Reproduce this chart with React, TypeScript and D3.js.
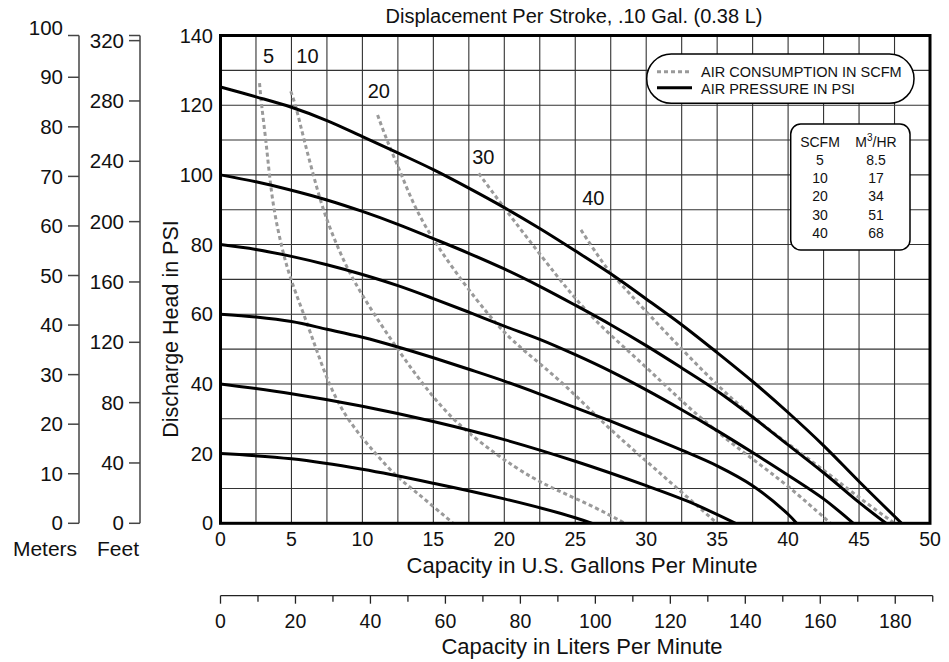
import React from "react";
import * as d3 from "d3";

type Pt = [number, number];

// ---- Data (GPM, PSI) ----
const gpmTicks = [0, 5, 10, 15, 20, 25, 30, 35, 40, 45, 50];
const psiTicks = [0, 20, 40, 60, 80, 100, 120, 140];
const meterTicks = [0, 10, 20, 30, 40, 50, 60, 70, 80, 90, 100];
const feetTicks = [0, 40, 80, 120, 160, 200, 240, 280, 320];
const literLabelTicks = [0, 20, 40, 60, 80, 100, 120, 140, 160, 180];
const literMinorTicks = [10, 30, 50, 70, 90, 110, 130, 150, 170, 190];

const pressure125: Pt[] = [[0,125.2],[2.5,122.4],[5,119.4],[7.5,115.6],[10,111],[12.5,106.3],[15,101.5],[17.5,96.2],[20,90.6],[22.5,84.6],[25,78.2],[27.5,71.6],[30,64.4],[32.5,57],[35,49],[37.5,40.7],[40,31.8],[42.5,22.3],[45,12],[48,0]];
const pressure100: Pt[] = [[0,100],[2.5,98],[5,95.6],[7.5,92.8],[10,89.5],[12.5,85.8],[15,81.7],[17.5,77.5],[20,73],[22.5,68],[25,62.6],[27.5,57],[30,51],[32.5,44.6],[35,38],[37.5,30.5],[40,22.5],[42.5,14.5],[45,6],[46.9,0]];
const pressure80: Pt[] = [[0,80],[2.5,78.6],[5,76.6],[7.5,74.2],[10,71.4],[12.5,68.2],[15,64.5],[17.5,60.6],[20,56.6],[22.5,52.8],[25,48.4],[27.5,43.6],[30,38.3],[32.5,32.6],[35,26.6],[37.5,20.3],[40,13.8],[42.5,7],[44.6,0]];
const pressure60: Pt[] = [[0,60],[2.5,59.2],[5,57.9],[7.5,55.7],[10,53.4],[12.5,50.6],[15,47.5],[17.5,44.2],[20,40.8],[22.5,37.1],[25,33.2],[27.5,29.3],[30,25.2],[32.5,21],[35,16.5],[37.5,10.8],[40,2.6],[40.6,0]];
const pressure40: Pt[] = [[0,40],[5,37.2],[10,33.6],[15,29.2],[20,24],[25,17.8],[30,10.8],[33,6.2],[36.3,0]];
const pressure20: Pt[] = [[0,20],[5,18.5],[10,15.5],[15,11.5],[20,7],[24,2.8],[26.2,0]];
const pressureSeries = [pressure125, pressure100, pressure80, pressure60, pressure40, pressure20];

const scfm5: Pt[] = [[2.75,126.3],[2.9,119.6],[3.2,110],[3.44,100],[3.77,89.5],[4.3,79.4],[4.85,71],[5.84,60.3],[6.77,49.8],[7.6,40.2],[8.9,29.7],[11,19.6],[12.4,13.4],[13.6,9.6],[15,4.8],[16.4,0]];
const scfm10: Pt[] = [[4.95,124],[5.3,120],[5.88,110.1],[6.54,100],[7.25,89.5],[8.23,79.4],[9.24,70.5],[10.77,60.3],[12.5,49.8],[14.2,40.2],[16.3,29.7],[19.45,19.6],[22,12.8],[24.2,8.6],[26.4,4.6],[28.5,0]];
const scfm20: Pt[] = [[11.07,117.2],[11.7,110.1],[12.76,100],[13.8,89.5],[15.3,79.4],[17.2,68.5],[18.8,60.3],[19.93,55],[21.3,49.8],[24.3,39.8],[27.1,28.2],[29.9,18.2],[32.2,10],[35,0]];
const scfm30: Pt[] = [[18.2,100.4],[19.9,91],[21.6,82],[23.7,71],[25,64.5],[26.8,56.4],[30,44.9],[32.5,35],[35,26.2],[37.5,18.4],[40,10.8],[43,0]];
const scfm40: Pt[] = [[25.4,84.2],[26.8,75.5],[27.5,71.8],[30,60.7],[32.5,50],[35,39.6],[37.5,30.4],[40.1,22.5],[42.6,15],[45.2,6.7],[47.5,0]];
const scfmSeries = [scfm5, scfm10, scfm20, scfm30, scfm40];

const scfmLabels = ["5", "10", "20", "30", "40"];
const scfmLabelAt: Pt[] = [[3.38, 132], [6.13, 132], [11.16, 122], [18.52, 103.1], [26.27, 91.4]];

const tableScfm = ["5", "10", "20", "30", "40"];
const tableM3hr = ["8.5", "17", "34", "51", "68"];

const GAL_TO_L = 3.78541;
const PSI_TO_FT = 2.31;
const PSI_TO_M = 0.70307;

const FONT = "'Liberation Sans', Arial, Helvetica, sans-serif";

export default function App() {
  const W = 949, H = 662;
  const x = d3.scaleLinear().domain([0, 50]).range([220.5, 930]);
  const y = d3.scaleLinear().domain([0, 140]).range([523.3, 35.5]);
  const xL = d3.scaleLinear().domain([0, 50 * GAL_TO_L]).range([220.5, 930]);
  const yFt = d3.scaleLinear().domain([0, 140 * PSI_TO_FT]).range([523.3, 35.5]);
  const yM = d3.scaleLinear().domain([0, 140 * PSI_TO_M]).range([523.3, 35.5]);

  const pLine = d3.line<Pt>().x(d => x(d[0])).y(d => y(d[1])).curve(d3.curveCatmullRom.alpha(0.5));
  const sLine = d3.line<Pt>().x(d => x(d[0])).y(d => y(d[1])).curve(d3.curveBasis);

  const vGrid = d3.range(0, 50.01, 2.5);
  const hGrid = d3.range(0, 140.01, 10);

  const [x0, x1] = x.range();
  const [yb, yt] = y.range();

  const mAxisX = 79;
  const ftAxisX = 140;
  const litAxisY = 595.7;
  const titleX = 582;

  return (
    <svg width={W} height={H} style={{ position: "absolute", left: 0, top: 0, background: "#fff" }} fontFamily={FONT}>
      <rect x={0} y={0} width={W} height={H} fill="#fff" />
      <defs>
        <clipPath id="plotClip">
          <rect x={x0} y={yt} width={x1 - x0} height={yb - yt} />
        </clipPath>
      </defs>

      {/* Title */}
      <text x={574} y={23} fontSize={20} textAnchor="middle" fill="#111">Displacement Per Stroke, .10 Gal. (0.38 L)</text>

      {/* grid */}
      <g stroke="#333" strokeWidth={1.1}>
        {vGrid.map(v => <line key={"v" + v} x1={x(v)} x2={x(v)} y1={yt} y2={yb} />)}
        {hGrid.map(v => <line key={"h" + v} x1={x0} x2={x1} y1={y(v)} y2={y(v)} />)}
      </g>

      {/* curves */}
      <g clipPath="url(#plotClip)" fill="none">
        {scfmSeries.map((s, i) => (
          <path key={"s" + i} d={sLine(s) || ""} stroke="#9a9a9a" strokeWidth={3} strokeDasharray="4 3" />
        ))}
        {pressureSeries.map((s, i) => (
          <path key={"p" + i} d={pLine(s) || ""} stroke="#000" strokeWidth={3} />
        ))}
      </g>

      {/* frame */}
      <rect x={x0} y={yt} width={x1 - x0} height={yb - yt} fill="none" stroke="#000" strokeWidth={3} />

      {/* scfm labels */}
      {scfmLabels.map((t, i) => (
        <text key={"sl" + i} x={x(scfmLabelAt[i][0])} y={y(scfmLabelAt[i][1])} fontSize={20} textAnchor="middle" fill="#111">{t}</text>
      ))}

      {/* legend */}
      <rect x={646.7} y={54} width={267.3} height={49.3} rx={24.6} ry={24.6} fill="#fff" stroke="#000" strokeWidth={1.5} />
      <line x1={657} x2={692} y1={71.7} y2={71.7} stroke="#9a9a9a" strokeWidth={3} strokeDasharray="4 3" />
      <line x1={657} x2={692} y1={87.7} y2={87.7} stroke="#000" strokeWidth={3} />
      <text x={701} y={76.5} fontSize={14.5} fill="#111">AIR CONSUMPTION IN SCFM</text>
      <text x={701} y={93.5} fontSize={14.5} fill="#111">AIR PRESSURE IN PSI</text>

      {/* conversion table */}
      <rect x={790.7} y={124} width={119.3} height={126} rx={10} ry={10} fill="#fff" stroke="#000" strokeWidth={1.5} />
      <text x={820} y={146.7} fontSize={14} textAnchor="middle" fill="#111">SCFM</text>
      <text x={876} y={146.7} fontSize={14} textAnchor="middle" fill="#111">
        M<tspan dy={-6} fontSize={10}>3</tspan><tspan dy={6}>/HR</tspan>
      </text>
      {tableScfm.map((t, i) => (
        <g key={"tr" + i}>
          <text x={820} y={165 + i * 18.2} fontSize={14} textAnchor="middle" fill="#111">{t}</text>
          <text x={876} y={165 + i * 18.2} fontSize={14} textAnchor="middle" fill="#111">{tableM3hr[i]}</text>
        </g>
      ))}

      {/* PSI axis labels */}
      {psiTicks.map(v => (
        <text key={"pt" + v} x={213} y={y(v)} dy="0.35em" fontSize={20} textAnchor="end" fill="#111">{v}</text>
      ))}
      <text transform={`translate(177.5, 329) rotate(-90)`} fontSize={21.5} textAnchor="middle" fill="#111">Discharge Head in PSI</text>

      {/* GPM axis labels */}
      {gpmTicks.map(v => (
        <text key={"gt" + v} x={x(v)} y={546} fontSize={19.5} textAnchor="middle" fill="#111">{v}</text>
      ))}
      <text x={titleX} y={573} fontSize={22} textAnchor="middle" fill="#111">Capacity in U.S. Gallons Per Minute</text>

      {/* Meters axis */}
      <g stroke="#444" strokeWidth={1.5}>
        <line x1={mAxisX} x2={mAxisX} y1={yM.range()[1]} y2={yM.range()[0]} />
        <line x1={mAxisX - 11} x2={mAxisX} y1={yM.range()[1]} y2={yM.range()[1]} />
        {meterTicks.filter(v => v <= yM.domain()[1]).map(v => (
          <line key={"mt" + v} x1={mAxisX - 11} x2={mAxisX} y1={yM(v)} y2={yM(v)} />
        ))}
      </g>
      {meterTicks.map(v => (
        <text key={"ml" + v} x={63} y={yM(v)} dy="0.35em" fontSize={20.5} textAnchor="end" fill="#111">{v}</text>
      ))}
      <text x={45} y={556} fontSize={21} textAnchor="middle" fill="#111">Meters</text>

      {/* Feet axis */}
      <g stroke="#444" strokeWidth={1.5}>
        <line x1={ftAxisX} x2={ftAxisX} y1={yFt.range()[1]} y2={yFt.range()[0]} />
        <line x1={ftAxisX - 11} x2={ftAxisX} y1={yFt.range()[1]} y2={yFt.range()[1]} />
        {feetTicks.map(v => (
          <line key={"ft" + v} x1={ftAxisX - 11} x2={ftAxisX} y1={yFt(v)} y2={yFt(v)} />
        ))}
      </g>
      {feetTicks.map(v => (
        <text key={"fl" + v} x={124} y={yFt(v)} dy="0.35em" fontSize={20.5} textAnchor="end" fill="#111">{v}</text>
      ))}
      <text x={118} y={556} fontSize={21} textAnchor="middle" fill="#111">Feet</text>

      {/* Liters axis */}
      <g stroke="#222" strokeWidth={1.3}>
        <line x1={xL(0)} x2={xL(190)} y1={litAxisY} y2={litAxisY} />
        {literLabelTicks.map(v => (
          <line key={"lt" + v} x1={xL(v)} x2={xL(v)} y1={litAxisY} y2={litAxisY + 8} />
        ))}
        {literMinorTicks.map(v => (
          <line key={"lm" + v} x1={xL(v)} x2={xL(v)} y1={litAxisY} y2={litAxisY + 6} />
        ))}
      </g>
      {literLabelTicks.map(v => (
        <text key={"ll" + v} x={xL(v)} y={628} fontSize={19.5} textAnchor="middle" fill="#111">{v}</text>
      ))}
      <text x={titleX} y={654} fontSize={22} textAnchor="middle" fill="#111">Capacity in Liters Per Minute</text>
    </svg>
  );
}
